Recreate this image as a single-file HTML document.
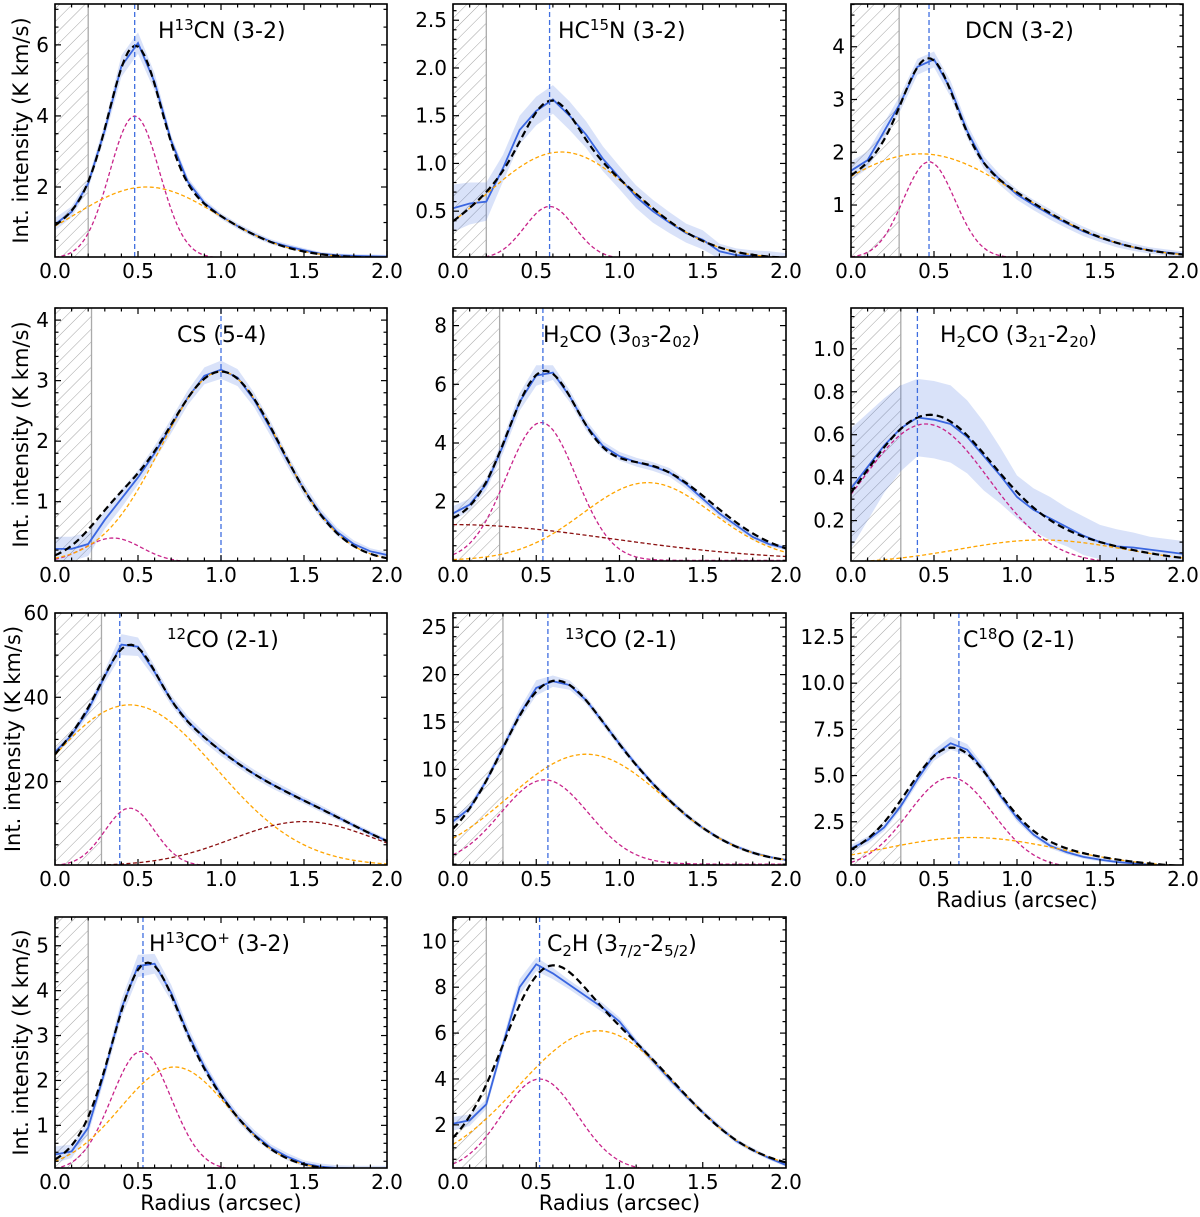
<!DOCTYPE html>
<html><head><meta charset="utf-8"><title>Radial intensity profiles</title>
<style>
html,body{margin:0;padding:0;background:#fff;}
svg{display:block;font-family:"DejaVu Sans","Liberation Sans",sans-serif;}
</style></head>
<body>
<svg id="fig" width="1200" height="1217" viewBox="0 0 1200 1217" xmlns="http://www.w3.org/2000/svg">
<defs>
<pattern id="hatch" patternUnits="userSpaceOnUse" width="9" height="9" patternTransform="rotate(45)">
<line x1="0" y1="0" x2="0" y2="9" stroke="#9a9a9a" stroke-width="0.9"/>
</pattern>
</defs>
</svg>
<script>
// ---- shared radius grid (arcsec) ----
const radii = [0,0.1,0.2,0.3,0.4,0.5,0.6,0.7,0.8,0.9,1.0,1.1,1.2,1.3,1.4,1.5,1.6,1.7,1.8,1.9,2.0];
const xTicks = [0,0.5,1.0,1.5,2.0];
const xTickLabels = ["0.0","0.5","1.0","1.5","2.0"];

// ---- H13CN (3-2) ----
const h13cnObs = [0.95,1.3,2.1,3.6,5.4,6.05,4.95,3.3,2.15,1.55,1.18,0.9,0.66,0.46,0.33,0.22,0.12,0.08,0.06,0.05,0.04];
const h13cnErr = [0.18,0.15,0.15,0.2,0.3,0.3,0.25,0.15,0.12,0.1,0.08,0.08,0.08,0.07,0.07,0.06,0.05,0.05,0.05,0.05,0.05];
const h13cnComps = [[4.0,0.48,0.15],[2.0,0.55,0.435]];
const h13cnPeak = 0.48, h13cnMask = 0.2;
const h13cnYTicks = [2,4,6];

// ---- HC15N (3-2) ----
const hc15nObs = [0.53,0.58,0.6,0.95,1.35,1.55,1.67,1.5,1.3,1.05,0.85,0.65,0.5,0.38,0.27,0.2,0.08,0.04,0.03,0.02,0.01];
const hc15nErr = [0.25,0.22,0.2,0.14,0.15,0.15,0.15,0.15,0.14,0.13,0.12,0.12,0.12,0.11,0.1,0.1,0.08,0.07,0.06,0.06,0.05];
const hc15nComps = [[0.55,0.58,0.15],[1.12,0.65,0.45]];
const hc15nPeak = 0.58, hc15nMask = 0.2;
const hc15nYTicks = [0.5,1.0,1.5,2.0,2.5];

// ---- DCN (3-2) ----
const dcnObs = [1.65,1.85,2.4,2.95,3.62,3.76,3.2,2.4,1.8,1.47,1.2,1.0,0.82,0.65,0.5,0.38,0.28,0.2,0.14,0.1,0.07];
const dcnErr = [0.18,0.16,0.16,0.15,0.15,0.15,0.15,0.13,0.12,0.1,0.1,0.1,0.1,0.09,0.09,0.08,0.08,0.07,0.06,0.06,0.05];
const dcnComps = [[1.82,0.47,0.155],[1.97,0.42,0.6]];
const dcnPeak = 0.47, dcnMask = 0.29;
const dcnYTicks = [1,2,3,4];

// ---- CS (5-4) ----
const csObs = [0.22,0.22,0.3,0.7,1.05,1.4,1.8,2.25,2.72,3.08,3.18,3.05,2.68,2.2,1.68,1.2,0.8,0.5,0.3,0.18,0.12];
const csErr = [0.2,0.2,0.2,0.15,0.15,0.12,0.12,0.12,0.12,0.14,0.15,0.14,0.12,0.12,0.1,0.1,0.08,0.07,0.06,0.05,0.05];
const csComps = [[0.4,0.35,0.17],[3.15,1.0,0.36]];
const csPeak = 1.0, csMask = 0.22;
const csYTicks = [1,2,3,4];

// ---- H2CO (3_03-2_02) ----
const h2coaObs = [1.6,1.9,2.6,3.9,5.4,6.3,6.4,5.6,4.6,3.9,3.55,3.35,3.2,3.0,2.6,2.1,1.6,1.2,0.8,0.55,0.42];
const h2coaErr = [0.25,0.2,0.2,0.25,0.3,0.35,0.25,0.2,0.18,0.15,0.15,0.15,0.15,0.15,0.15,0.12,0.12,0.1,0.1,0.08,0.08];
const h2coaComps = [[4.7,0.53,0.21],[2.65,1.17,0.39],[1.22,0.0,0.95]];
const h2coaPeak = 0.54, h2coaMask = 0.28;
const h2coaYTicks = [2,4,6,8];

// ---- H2CO (3_21-2_20) ----
const h2cobObs = [0.35,0.45,0.55,0.63,0.68,0.67,0.65,0.59,0.5,0.41,0.31,0.25,0.21,0.17,0.13,0.1,0.08,0.075,0.065,0.055,0.045];
const h2cobErr = [0.28,0.25,0.22,0.2,0.18,0.18,0.18,0.17,0.16,0.13,0.1,0.1,0.1,0.09,0.09,0.08,0.08,0.07,0.06,0.06,0.06];
const h2cobComps = [[0.65,0.45,0.38],[0.11,1.15,0.5]];
const h2cobPeak = 0.4, h2cobMask = 0.3;
const h2cobYTicks = [0.2,0.4,0.6,0.8,1.0];

// ---- 12CO (2-1) ----
const co12Obs = [27,31,37,45,52.5,52,46,39.3,34.3,30.5,27.3,24.4,21.8,19.5,17.5,15.5,13.6,11.6,9.6,7.7,5.9];
const co12Err = [0.8,1,1.2,1.5,2.5,2.2,1.5,1.2,1.2,1.2,1.2,1,1,1,0.9,0.8,0.8,0.7,0.6,0.6,0.5];
const co12Comps = [[13.7,0.45,0.15],[38.2,0.45,0.52],[10.5,1.5,0.435]];
const co12Peak = 0.39, co12Mask = 0.28;
const co12YTicks = [20,40,60];

// ---- 13CO (2-1) ----
const co13Obs = [4.5,5.9,8.8,12.3,15.8,18.6,19.3,18.9,17.3,15.0,12.7,10.5,8.5,6.75,5.14,3.82,2.72,1.86,1.21,0.75,0.45];
const co13Err = [0.4,0.4,0.4,0.5,0.6,0.8,0.6,0.5,0.4,0.4,0.4,0.3,0.3,0.3,0.3,0.25,0.2,0.2,0.2,0.15,0.15];
const co13Comps = [[8.9,0.55,0.263],[11.6,0.8,0.47]];
const co13Peak = 0.57, co13Mask = 0.3;
const co13YTicks = [5,10,15,20,25];

// ---- C18O (2-1) ----
const c18oObs = [1.05,1.5,2.2,3.35,4.8,6.1,6.75,6.4,5.3,3.9,2.7,1.8,1.2,0.85,0.6,0.45,0.32,0.25,0.18,0.12,0.1];
const c18oErr = [0.2,0.2,0.2,0.2,0.25,0.3,0.35,0.3,0.25,0.2,0.2,0.15,0.15,0.12,0.1,0.1,0.08,0.08,0.06,0.05,0.05];
const c18oComps = [[4.9,0.6,0.254],[1.65,0.72,0.55]];
const c18oPeak = 0.65, c18oMask = 0.3;
const c18oYTicks = [2.5,5.0,7.5,10.0,12.5];

// ---- H13CO+ (3-2) ----
const h13copObs = [0.35,0.42,0.95,2.2,3.6,4.55,4.6,3.95,3.05,2.3,1.68,1.18,0.8,0.5,0.3,0.15,0.08,0.05,0.04,0.04,0.04];
const h13copErr = [0.18,0.15,0.15,0.15,0.2,0.25,0.22,0.18,0.15,0.12,0.1,0.1,0.1,0.08,0.08,0.07,0.07,0.06,0.06,0.06,0.06];
const h13copComps = [[2.65,0.52,0.18],[2.3,0.72,0.326]];
const h13copPeak = 0.53, h13copMask = 0.2;
const h13copYTicks = [1,2,3,4,5];

// ---- C2H (3_7/2-2_5/2) ----
const c2hObs = [2.05,2.2,2.9,5.5,8.0,9.0,8.6,8.1,7.6,7.1,6.5,5.6,4.8,4.0,3.25,2.55,1.9,1.3,0.9,0.55,0.25];
const c2hErr = [0.3,0.25,0.2,0.25,0.35,0.3,0.25,0.2,0.2,0.2,0.18,0.15,0.15,0.15,0.12,0.12,0.12,0.1,0.1,0.08,0.08];
const c2hComps = [[4.0,0.52,0.228],[6.1,0.87,0.476]];
const c2hPeak = 0.52, c2hMask = 0.2;
const c2hYTicks = [2,4,6,8,10];

// ---- layout ----
const COLX = [[55,387],[453,786],[851,1183]];
const ROWY = [[4,257],[308,561],[613,865],[917,1168]];
const YLABX = [28,28,20,28];
const compColors = ["#c8238a","#ffa500","#8b1010"];

const panels = [
 {id:"h13cn",c:0,r:0,obs:h13cnObs,err:h13cnErr,comps:h13cnComps,peak:h13cnPeak,mask:h13cnMask,yt:h13cnYTicks,dom:[0.03,7.15],minor:0.5,fmt:0,tx:158,
  title:'H<tspan dy="-8" font-size="15">13</tspan><tspan dy="8">CN (3-2)</tspan>'},
 {id:"hc15n",c:1,r:0,obs:hc15nObs,err:hc15nErr,comps:hc15nComps,peak:hc15nPeak,mask:hc15nMask,yt:hc15nYTicks,dom:[0.02,2.67],minor:0.1,fmt:1,tx:558,
  title:'HC<tspan dy="-8" font-size="15">15</tspan><tspan dy="8">N (3-2)</tspan>'},
 {id:"dcn",c:2,r:0,obs:dcnObs,err:dcnErr,comps:dcnComps,peak:dcnPeak,mask:dcnMask,yt:dcnYTicks,dom:[0.015,4.81],minor:0.2,fmt:0,tx:965,
  title:'DCN (3-2)'},
 {id:"cs",c:0,r:1,obs:csObs,err:csErr,comps:csComps,peak:csPeak,mask:csMask,yt:csYTicks,dom:[0.02,4.2],minor:0.2,fmt:0,tx:177,
  title:'CS (5-4)'},
 {id:"h2co-303",c:1,r:1,obs:h2coaObs,err:h2coaErr,comps:h2coaComps,peak:h2coaPeak,mask:h2coaMask,yt:h2coaYTicks,dom:[-0.02,8.6],minor:0.5,fmt:0,tx:543,
  title:'H<tspan dy="5" font-size="15">2</tspan><tspan dy="-5">CO (3</tspan><tspan dy="5" font-size="15">03</tspan><tspan dy="-5">-2</tspan><tspan dy="5" font-size="15">02</tspan><tspan dy="-5">)</tspan>'},
 {id:"h2co-321",c:2,r:1,obs:h2cobObs,err:h2cobErr,comps:h2cobComps,peak:h2cobPeak,mask:h2cobMask,yt:h2cobYTicks,dom:[0.012,1.19],minor:0.05,fmt:1,tx:940,
  title:'H<tspan dy="5" font-size="15">2</tspan><tspan dy="-5">CO (3</tspan><tspan dy="5" font-size="15">21</tspan><tspan dy="-5">-2</tspan><tspan dy="5" font-size="15">20</tspan><tspan dy="-5">)</tspan>'},
 {id:"co12",c:0,r:2,obs:co12Obs,err:co12Err,comps:co12Comps,peak:co12Peak,mask:co12Mask,yt:co12YTicks,dom:[0.2,60],minor:5,fmt:0,tx:167,
  title:'<tspan dy="-8" font-size="15">12</tspan><tspan dy="8">CO (2-1)</tspan>'},
 {id:"co13",c:1,r:2,obs:co13Obs,err:co13Err,comps:co13Comps,peak:co13Peak,mask:co13Mask,yt:co13YTicks,dom:[-0.09,26.5],minor:1,fmt:0,tx:565,
  title:'<tspan dy="-8" font-size="15">13</tspan><tspan dy="8">CO (2-1)</tspan>'},
 {id:"c18o",c:2,r:2,obs:c18oObs,err:c18oErr,comps:c18oComps,peak:c18oPeak,mask:c18oMask,yt:c18oYTicks,dom:[0.16,13.8],minor:0.5,fmt:1,tx:963,
  title:'C<tspan dy="-8" font-size="15">18</tspan><tspan dy="8">O (2-1)</tspan>'},
 {id:"h13cop",c:0,r:3,obs:h13copObs,err:h13copErr,comps:h13copComps,peak:h13copPeak,mask:h13copMask,yt:h13copYTicks,dom:[0.05,5.64],minor:0.2,fmt:0,tx:149,
  title:'H<tspan dy="-8" font-size="15">13</tspan><tspan dy="8">CO</tspan><tspan dy="-8" font-size="15">+</tspan><tspan dy="8">  (3-2)</tspan>'},
 {id:"c2h",c:1,r:3,obs:c2hObs,err:c2hErr,comps:c2hComps,peak:c2hPeak,mask:c2hMask,yt:c2hYTicks,dom:[0.12,11.06],minor:0.5,fmt:0,tx:547,
  title:'C<tspan dy="5" font-size="15">2</tspan><tspan dy="-5">H (3</tspan><tspan dy="5" font-size="15">7/2</tspan><tspan dy="-5">-2</tspan><tspan dy="5" font-size="15">5/2</tspan><tspan dy="-5">)</tspan>'}
];

const NS = "http://www.w3.org/2000/svg";
const svg = document.getElementById("fig");
const defs = svg.querySelector("defs");
function mk(tag, attrs, parent){
  const e = document.createElementNS(NS, tag);
  for (const k in attrs) e.setAttribute(k, attrs[k]);
  (parent||svg).appendChild(e);
  return e;
}
function gauss(r, p){ return p[0]*Math.exp(-((r-p[1])*(r-p[1]))/(2*p[2]*p[2])); }

panels.forEach(function(P){
  const x0 = COLX[P.c][0], x1 = COLX[P.c][1], y0 = ROWY[P.r][0], y1 = ROWY[P.r][1];
  const sx = function(v){ return x0 + (v-0)/(2.0-0)*(x1-x0); };
  const sy = function(v){ return y1 - (v-P.dom[0])/(P.dom[1]-P.dom[0])*(y1-y0); };
  const g = mk("g", {});
  
  

  const cp = mk("clipPath", {id:"clip-"+P.id}, defs);
  mk("rect", {x:x0, y:y0, width:x1-x0, height:y1-y0}, cp);
  const plot = mk("g", {"clip-path":"url(#clip-"+P.id+")"}, g);
  
  

  const hatch = mk("rect", {x:x0, y:y0, width:sx(P.mask)-x0, height:y1-y0, fill:"url(#hatch)"}, plot);
  
  
  const hb = mk("line", {x1:sx(P.mask), x2:sx(P.mask), y1:y0, y2:y1, stroke:"#aaaaaa", "stroke-width":1.3}, plot);
  
  

  let up = [], lo = [];
  for (let i=0;i<radii.length;i++){
    up.push(sx(radii[i]).toFixed(2)+","+sy(P.obs[i]+P.err[i]).toFixed(2));
    lo.unshift(sx(radii[i]).toFixed(2)+","+sy(Math.max(P.obs[i]-P.err[i], P.dom[0]-1)).toFixed(2));
  }
  const band = mk("polygon", {points:up.concat(lo).join(" "), fill:"#3f6ee0", "fill-opacity":0.2, stroke:"none"}, plot);
  
  

  let op = [];
  for (let i=0;i<radii.length;i++) op.push(sx(radii[i]).toFixed(2)+","+sy(P.obs[i]).toFixed(2));
  const obsLine = mk("polyline", {points:op.join(" "), fill:"none", stroke:"#3a66e0", "stroke-width":1.8}, plot);
  
  

  const N = 100;
  P.comps.forEach(function(cpar, k){
    let pts = [];
    for (let j=0;j<=N;j++){ const r = 2.0*j/N; pts.push(sx(r).toFixed(2)+","+sy(gauss(r,cpar)).toFixed(2)); }
    const cl = mk("polyline", {points:pts.join(" "), fill:"none", stroke:compColors[k], "stroke-width":1.3, "stroke-dasharray":"4,2.5"}, plot);
    
    
  });
  let tp = [];
  for (let j=0;j<=N;j++){
    const r = 2.0*j/N; let s = 0;
    P.comps.forEach(function(cpar){ s += gauss(r,cpar); });
    tp.push(sx(r).toFixed(2)+","+sy(s).toFixed(2));
  }
  const tot = mk("polyline", {points:tp.join(" "), fill:"none", stroke:"#000", "stroke-width":2.2, "stroke-dasharray":"7,4"}, plot);
  
  

  const pk = mk("line", {x1:sx(P.peak), x2:sx(P.peak), y1:y0, y2:y1, stroke:"#3f6ee0", "stroke-width":1.3, "stroke-dasharray":"5,3"}, plot);
  
  

  const tg = mk("g", {stroke:"#000", "stroke-width":1.2}, g);
  
  
  for (let v=0; v<=2.0001; v+=0.1){
    const major = Math.abs(v/0.5 - Math.round(v/0.5)) < 1e-6;
    const L = major ? 6 : 3.5, x = sx(v);
    mk("line", {x1:x, x2:x, y1:y1, y2:y1-L}, tg);
    mk("line", {x1:x, x2:x, y1:y0, y2:y0+L}, tg);
  }
  const start = Math.ceil(P.dom[0]/P.minor - 1e-6)*P.minor;
  for (let v=start; v<=P.dom[1]+1e-9; v+=P.minor){
    const isMaj = P.yt.some(function(t){return Math.abs(t-v)<1e-6;});
    const L = isMaj ? 6 : 3.5, y = sy(v);
    mk("line", {x1:x0, x2:x0+L, y1:y, y2:y}, tg);
    mk("line", {x1:x1, x2:x1-L, y1:y, y2:y}, tg);
  }

  xTicks.forEach(function(v, i){
    const t = mk("text", {x:sx(v), y:y1+21, "text-anchor":"middle", "font-size":20, fill:"#000"}, g);
    t.textContent = xTickLabels[i];
    
    
  });
  P.yt.forEach(function(v){
    const t = mk("text", {x:x0-6, y:sy(v)+7, "text-anchor":"end", "font-size":20, fill:"#000"}, g);
    t.textContent = v.toFixed(P.fmt);
    
    
  });

  const fr = mk("rect", {x:x0, y:y0, width:x1-x0, height:y1-y0, fill:"none", stroke:"#000", "stroke-width":1.6}, g);
  
  

  const tt = mk("text", {x:P.tx, y:y0+34, "font-size":22, fill:"#000"}, g);
  tt.innerHTML = P.title;
  
  

  if (P.c === 0){
    const yl = mk("text", {x:0, y:0, "text-anchor":"middle", "font-size":21, fill:"#000",
      transform:"translate(" + YLABX[P.r] + "," + ((y0+y1)/2) + ") rotate(-90)"}, g);
    yl.textContent = "Int. intensity (K km/s)";
    
    
  }
  if (P.r === 3 || (P.c === 2 && P.r === 2)){
    const xl = mk("text", {x:(x0+x1)/2, y:y1+42, "text-anchor":"middle", "font-size":21, fill:"#000"}, g);
    xl.textContent = "Radius (arcsec)";
    
    
  }
});
</script>
</body></html>
